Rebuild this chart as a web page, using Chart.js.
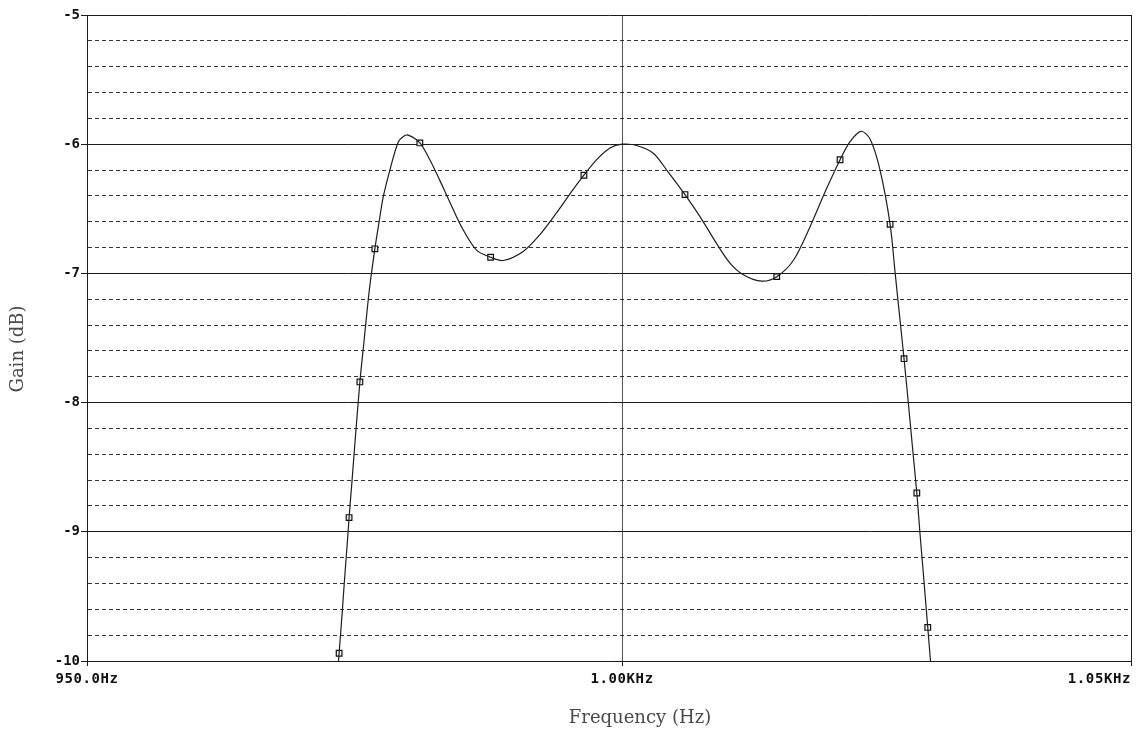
<!DOCTYPE html>
<html>
<head>
<meta charset="utf-8">
<title>Gain vs Frequency</title>
<script src="https://cdn.jsdelivr.net/npm/chart.js@4.4.1/dist/chart.umd.min.js"></script>
<style>
  html, body { margin: 0; padding: 0; background: #fff; }
  canvas { display: block; }
</style>
</head>
<body>
<canvas id="gain" width="1141" height="736"></canvas>
<script>
// trace (Hz, dB)
var freqHz = [973.18, 973.24, 973.54, 973.72, 973.89, 974.08, 974.17, 974.45, 974.74, 975.18,
              975.58, 976.06, 976.58, 976.98, 977.36, 977.99, 978.76, 979.25, 979.70, 980.80, 981.74,
              982.68, 983.63, 984.73, 986.15, 987.48, 988.67, 990.57, 992.16, 993.75, 995.33,
              996.35, 997.57, 998.84, 1000.0, 1001.40, 1003.00, 1004.29, 1006.05, 1007.50, 1009.11,
              1010.40, 1011.69, 1013.48, 1014.94, 1016.55, 1018.18, 1019.65, 1021.12, 1022.10, 1023.18,
              1024.06, 1025.04, 1026.03, 1026.53, 1027.11, 1027.40, 1027.81, 1028.19, 1028.66, 1028.96,
              1029.28, 1029.74, 1030.01]
var gainDb = [-10.0, -9.94, -9.61, -9.40, -9.21, -9.00, -8.89, -8.60, -8.29, -7.84,
              -7.515, -7.13, -6.81, -6.60, -6.41, -6.20, -5.985, -5.94, -5.93, -5.99, -6.12,
              -6.28, -6.45, -6.64, -6.82, -6.875, -6.90, -6.83, -6.70, -6.53, -6.35,
              -6.24, -6.12, -6.03, -6.00, -6.01, -6.07, -6.20, -6.39, -6.56, -6.77,
              -6.92, -7.01, -7.06, -7.025, -6.90, -6.64, -6.37, -6.12, -5.98, -5.90,
              -5.96, -6.20, -6.62, -7.00, -7.44, -7.66, -7.99, -8.31, -8.70, -9.00,
              -9.30, -9.74, -10.0]

// the little square markers on the trace
var markerFreqHz = [973.24, 974.17, 975.18, 976.58, 980.80, 987.48, 996.35,
                    1006.05, 1014.94, 1021.12, 1026.03, 1027.40, 1028.66, 1029.74]
var markerGainDb = [-9.94, -8.89, -7.84, -6.81, -5.99, -6.875, -6.24,
                    -6.39, -7.025, -6.12, -6.62, -7.66, -8.70, -9.74]

var xTicks = [950, 1000, 1050]
var xTickLabels = ['950.0Hz', '1.00KHz', '1.05KHz']
var yMin = -10
var yMax = -5

function isMajor(v) {
    return Math.abs(v - Math.round(v)) < 1e-6
}

function toPoints(xs, ys) {
    return xs.map(function (x, i) { return { x: x, y: ys[i] } })
}

var monoFont = '"DejaVu Sans Mono", monospace'
var serifFont = '"DejaVu Serif", serif'

// x tick labels + axis titles, placed like the original plot
var pspiceText = {
    id: 'pspiceText',
    afterDraw: function (chart) {
        var ctx = chart.ctx
        var x = chart.scales.x
        ctx.save()
        ctx.fillStyle = '#111'
        ctx.font = 'bold 14px ' + monoFont
        ctx.letterSpacing = '0.6px'
        ctx.textBaseline = 'alphabetic'
        xTicks.forEach(function (v, i) {
            ctx.textAlign = i === xTicks.length - 1 ? 'right' : 'center'
            ctx.fillText(xTickLabels[i], x.getPixelForValue(v), 683)
        })
        ctx.letterSpacing = '0px'

        ctx.fillStyle = '#4a4a4a'
        ctx.font = '18px ' + serifFont
        ctx.textAlign = 'center'
        ctx.textBaseline = 'middle'
        ctx.fillText('Frequency (Hz)', 640, 718)

        ctx.translate(18, 349)
        ctx.rotate(-Math.PI / 2)
        ctx.fillText('Gain (dB)', 0, 0)
        ctx.restore()
    }
}

var chart = new Chart(
    document.getElementById('gain'),
    {
        type: 'line',
        data: {
            datasets: [
                {
                    label: 'Gain',
                    data: toPoints(freqHz, gainDb),
                    borderColor: '#1e1e1e',
                    borderWidth: 1.2,
                    pointRadius: 0,
                    tension: 0.3,
                    fill: false,
                },
                {
                    label: 'markers',
                    data: toPoints(markerFreqHz, markerGainDb),
                    showLine: false,
                    pointStyle: 'rect',
                    pointRadius: 4,
                    pointBorderWidth: 1.2,
                    pointBorderColor: '#111',
                    pointBackgroundColor: '#f4f4f4',
                },
            ]
        },
        options: {
            responsive: false,
            animation: false,
            layout: { padding: { left: 0, right: 10, top: 15, bottom: 0 } },
            plugins: {
                legend: { display: false },
                tooltip: { enabled: false },
            },
            scales: {
                x: {
                    type: 'logarithmic',
                    min: 950,
                    max: 1050,
                    afterBuildTicks: function (scale) {
                        scale.ticks = xTicks.map(function (v) { return { value: v } })
                    },
                    afterFit: function (scale) {
                        scale.height = 75
                        scale.paddingLeft = 0
                        scale.paddingRight = 0
                    },
                    ticks: { display: false },
                    grid: {
                        color: function (c) { return c.tick && c.tick.value === 1000 ? '#555' : '#1a1a1a' },
                        tickColor: '#1a1a1a',
                        tickLength: 5,
                    },
                    border: { color: '#1a1a1a', width: 1 },
                },
                y: {
                    min: yMin,
                    max: yMax,
                    afterFit: function (scale) {
                        scale.width = 87
                    },
                    ticks: {
                        stepSize: 0.2,
                        autoSkip: false,
                        padding: 1,
                        color: '#111',
                        font: { family: monoFont, size: 14, weight: 'bold' },
                        callback: function (v) { return isMajor(v) ? String(Math.round(v)) : '' },
                    },
                    grid: {
                        color: function (c) { return c.tick && isMajor(c.tick.value) ? '#1a1a1a' : '#333' },
                        tickColor: function (c) { return c.tick && isMajor(c.tick.value) ? '#1a1a1a' : 'rgba(0,0,0,0)' },
                        tickLength: 6,
                    },
                    border: {
                        color: '#1a1a1a',
                        dash: function (c) { return c.tick && !isMajor(c.tick.value) ? [4, 3] : [] },
                    },
                }
            }
        },
        plugins: [pspiceText]
    }
);
</script>
</body>
</html>
